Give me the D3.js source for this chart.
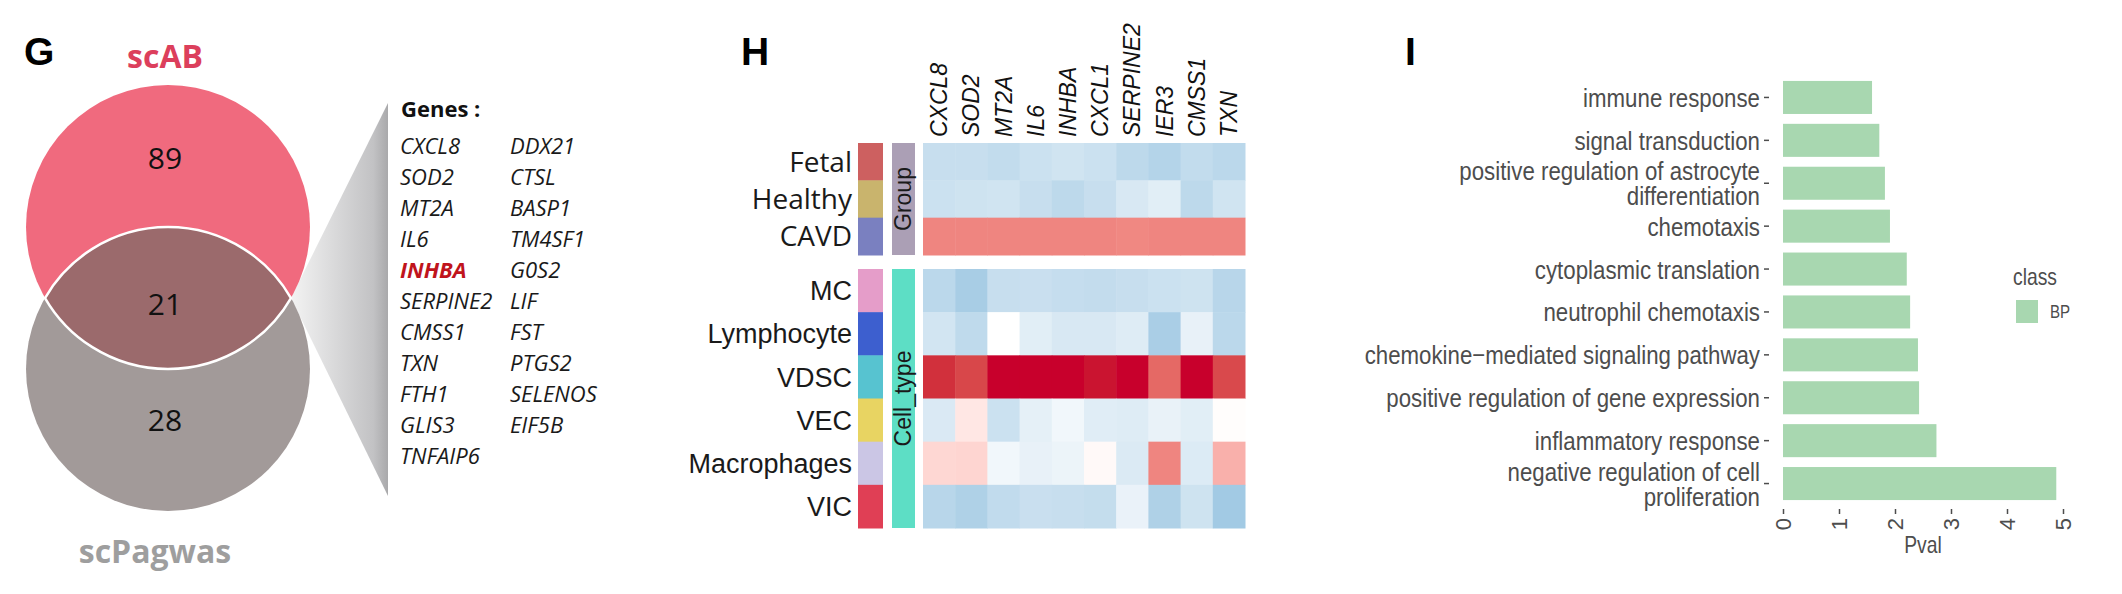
<!DOCTYPE html>
<html>
<head>
<meta charset="utf-8">
<script src="https://cdn.jsdelivr.net/npm/d3@7"></script>
<style>
  body { margin: 0; background: #fff; }
  svg { display: block; }
</style>
</head>
<body>
<svg id="fig" width="2122" height="594"></svg>
<script>
// ---- panel G : venn ----
const vennNames = ["scAB", "scPagwas"];
const vennCounts = [89, 21, 28];   // scAB only, shared, scPagwas only
const sharedGenes = ["CXCL8", "SOD2", "MT2A", "IL6", "INHBA", "SERPINE2", "CMSS1", "TXN", "FTH1", "GLIS3", "TNFAIP6",
                     "DDX21", "CTSL", "BASP1", "TM4SF1", "G0S2", "LIF", "FST", "PTGS2", "SELENOS", "EIF5B"];
const highlightGene = "INHBA";

// ---- panel H : heatmap ----
const heatGenes = ["CXCL8", "SOD2", "MT2A", "IL6", "INHBA", "CXCL1", "SERPINE2", "IER3", "CMSS1", "TXN"];
const groupNames = ["Fetal", "Healthy", "CAVD"];
const groupColors = ["#cd6060", "#c9b46d", "#7a80c0"];
const groupValues = [
  [-0.60, -0.60, -0.65, -0.55, -0.50, -0.55, -0.70, -0.80, -0.65, -0.72],
  [-0.55, -0.52, -0.50, -0.60, -0.70, -0.60, -0.42, -0.32, -0.70, -0.50],
  [ 1.00,  1.00,  1.00,  1.00,  1.00,  1.00,  0.98,  1.00,  1.00,  1.00]
];
const cellNames = ["MC", "Lymphocyte", "VDSC", "VEC", "Macrophages", "VIC"];
const cellColors = ["#e59dc9", "#3d5fcf", "#57c3d0", "#e8d462", "#cbc6e5", "#e03f55"];
const cellValues = [
  [-0.72, -0.92, -0.60, -0.58, -0.62, -0.64, -0.60, -0.55, -0.52, -0.75],
  [-0.48, -0.68,  0.00, -0.32, -0.42, -0.42, -0.35, -0.90, -0.25, -0.72],
  [ 1.80,  1.62,  2.05,  2.05,  2.00,  1.95,  2.05,  1.30,  2.05,  1.60],
  [-0.40,  0.20, -0.55, -0.28, -0.15, -0.33, -0.35, -0.24, -0.32,  0.02],
  [ 0.33,  0.35, -0.15, -0.25, -0.20,  0.05, -0.38,  1.00, -0.37,  0.65],
  [-0.75, -0.85, -0.66, -0.58, -0.60, -0.63, -0.23, -0.85, -0.52, -0.98]
];

// ---- panel I : GO bars ----
const goTerms = ["immune response", "signal transduction", "positive regulation of astrocyte\ndifferentiation",
                 "chemotaxis", "cytoplasmic translation", "neutrophil chemotaxis",
                 "chemokine\u2212mediated signaling pathway", "positive regulation of gene expression",
                 "inflammatory response", "negative regulation of cell\nproliferation"];
const goPval = [1.59, 1.72, 1.82, 1.91, 2.21, 2.27, 2.41, 2.43, 2.74, 4.88];
const goClass = ["BP"];
const pvalTicks = [0, 1, 2, 3, 4, 5];

const svg = d3.select("#fig");
const sans = "'Liberation Sans', Arial, sans-serif";
const soft = "'Open Sans', 'Noto Sans', sans-serif";
const squeeze = 0.84;   // ggplot text in the figure looks horizontally condensed

// panel letters
svg.selectAll("text.letter")
  .data([["G", 24], ["H", 741], ["I", 1405]])
  .enter().append("text")
  .attr("x", d => d[1]).attr("y", 65)
  .attr("font-family", sans).attr("font-weight", "bold").attr("font-size", 39)
  .text(d => d[0]);

// ================= G =================
const venn = svg.append("g");
const vx = 168, vr = 142, vTop = 227, vBot = 369;
const half = (vBot - vTop) / 2;
const dx = Math.sqrt(vr * vr - half * half);
const vMid = (vTop + vBot) / 2;

// funnel to gene list
const defs = svg.append("defs");
const grad = defs.append("linearGradient").attr("id", "fade")
  .attr("gradientUnits", "userSpaceOnUse")
  .attr("x1", vx + dx).attr("x2", 388).attr("y1", 0).attr("y2", 0);
grad.append("stop").attr("offset", 0).attr("stop-color", "#f3f3f3");
grad.append("stop").attr("offset", 0.85).attr("stop-color", "#c2c2c4");
grad.append("stop").attr("offset", 1).attr("stop-color", "#a9a9ab");
venn.append("path")
  .attr("d", `M${vx + dx},${vMid} L388,103 L388,496 Z`)
  .attr("fill", "url(#fade)");

venn.append("circle").attr("cx", vx).attr("cy", vTop).attr("r", vr).attr("fill", "#f06a7e");
venn.append("circle").attr("cx", vx).attr("cy", vBot).attr("r", vr).attr("fill", "#a29a99");
venn.append("path")
  .attr("d", `M${vx - dx},${vMid} A${vr},${vr} 0 0 1 ${vx + dx},${vMid} A${vr},${vr} 0 0 1 ${vx - dx},${vMid} Z`)
  .attr("fill", "#9b6a6c").attr("stroke", "#fff").attr("stroke-width", 2.5);

venn.selectAll("text.count")
  .data(vennCounts)
  .enter().append("text")
  .attr("x", vx - 3)
  .attr("y", (d, i) => [158, 304, 420][i])
  .attr("dy", "0.36em")
  .attr("text-anchor", "middle")
  .attr("font-family", soft).attr("font-size", 30).attr("fill", "#111")
  .text(d => d);

venn.selectAll("text.set")
  .data(vennNames)
  .enter().append("text")
  .attr("x", (d, i) => i === 0 ? 165 : 155)
  .attr("y", (d, i) => i === 0 ? 68 : 563)
  .attr("text-anchor", "middle")
  .attr("font-family", soft).attr("font-weight", "bold").attr("font-size", 32)
  .attr("fill", (d, i) => i === 0 ? "#dc3f5c" : "#9e9e9e")
  .text(d => d);

venn.append("text")
  .attr("x", 401).attr("y", 117)
  .attr("font-family", soft).attr("font-weight", "bold").attr("font-size", 22).attr("fill", "#111")
  .text("Genes :");

venn.selectAll("text.gene")
  .data(sharedGenes)
  .enter().append("text")
  .attr("x", (d, i) => i < 11 ? 400 : 510)
  .attr("y", (d, i) => 154 + (i % 11) * 31)
  .attr("font-family", soft).attr("font-style", "italic").attr("font-size", 22)
  .attr("font-weight", d => d === highlightGene ? "bold" : "normal")
  .attr("fill", d => d === highlightGene ? "#c0141c" : "#1a1a1a")
  .text(d => d);

// ================= H =================
const heat = svg.append("g");
const hx = d3.scaleBand().domain(heatGenes).range([923, 1245]);
const gy = d3.scaleBand().domain(groupNames).range([143, 255]);
const ty = d3.scaleBand().domain(cellNames).range([269, 528]);
const heatColor = d3.scaleLinear()
  .domain([-1, 0, 1, 2])
  .range(["#a0c9e3", "#ffffff", "#ef8580", "#c8002c"])
  .interpolate(d3.interpolateLab)
  .clamp(true);

function drawBlock(names, colors, values, yScale, label, labelColor, labelFont, labelSize) {
  const rows = heat.append("g");
  names.forEach((name, r) => {
    rows.selectAll(null)
      .data(values[r])
      .enter().append("rect")
      .attr("x", (d, c) => hx(heatGenes[c]))
      .attr("y", yScale(name))
      .attr("width", hx.bandwidth() + 0.5)
      .attr("height", yScale.bandwidth() + 0.5)
      .attr("fill", d => heatColor(d));
  });
  heat.selectAll(null)
    .data(names)
    .enter().append("rect")
    .attr("x", 858).attr("width", 25)
    .attr("y", d => yScale(d)).attr("height", yScale.bandwidth() + 0.5)
    .attr("fill", (d, i) => colors[i]);
  heat.selectAll(null)
    .data(names)
    .enter().append("text")
    .attr("x", 852).attr("y", d => yScale(d) + yScale.bandwidth() / 2)
    .attr("dy", "0.36em").attr("text-anchor", "end")
    .attr("font-family", labelFont).attr("font-size", labelSize).attr("fill", "#1a1a1a")
    .text(d => d);
  const [y0, y1] = yScale.range();
  heat.append("rect")
    .attr("x", 892).attr("width", 23).attr("y", y0).attr("height", y1 - y0)
    .attr("fill", labelColor);
  heat.append("text")
    .attr("transform", `translate(911,${(y0 + y1) / 2}) rotate(-90)`)
    .attr("text-anchor", "middle")
    .attr("font-family", sans).attr("font-size", 23).attr("fill", "#1a1a1a")
    .text(label);
}
drawBlock(groupNames, groupColors, groupValues, gy, "Group", "#ab9fb5", soft, 28);
drawBlock(cellNames, cellColors, cellValues, ty, "Cell_type", "#5ddec5", sans, 27);

heat.selectAll("text.col")
  .data(heatGenes)
  .enter().append("text")
  .attr("transform", d => `translate(${hx(d) + hx.bandwidth() / 2 + 8},137) rotate(-90)`)
  .attr("font-family", sans).attr("font-style", "italic").attr("font-size", 23).attr("fill", "#111")
  .text(d => d);

// ================= I =================
const bars = svg.append("g");
const bx = d3.scaleLinear().domain([0, 5]).range([1783, 2063]);
const by = d3.scaleBand().domain(goTerms).range([76, 505]).paddingInner(0.23).paddingOuter(0.115);
const panelLeft = bx(-0.25), panelBottom = 509;

bars.selectAll("rect.bar")
  .data(goTerms)
  .enter().append("rect")
  .attr("x", bx(0))
  .attr("y", d => by(d))
  .attr("width", (d, i) => bx(goPval[i]) - bx(0))
  .attr("height", by.bandwidth())
  .attr("fill", "#a8d7b0");

const yAxis = bars.append("g")
  .attr("transform", `translate(${panelLeft},0)`)
  .call(d3.axisLeft(by).tickSize(5).tickPadding(4).tickFormat(""));
yAxis.select(".domain").remove();
yAxis.selectAll("line").attr("stroke", "#4d4d4d").attr("stroke-width", 1.5);
yAxis.selectAll(".tick").each(function (d) {
  const lines = d.split("\n");
  const t = d3.select(this).append("g")
    .attr("transform", `translate(-9,0) scale(${squeeze},1)`)
    .append("text")
    .attr("fill", "#4d4d4d")
    .attr("text-anchor", "end")
    .attr("font-family", sans).attr("font-size", 26.5);
  lines.forEach((ln, k) => {
    t.append("tspan").attr("x", 0)
      .attr("y", (k - (lines.length - 1) / 2) * 25)
      .attr("dy", "0.36em")
      .text(ln);
  });
});

const xAxis = bars.append("g")
  .attr("transform", `translate(0,${panelBottom})`)
  .call(d3.axisBottom(bx).tickValues(pvalTicks).tickSize(5).tickPadding(0).tickFormat(d3.format("d")));
xAxis.select(".domain").remove();
xAxis.selectAll("line").attr("stroke", "#4d4d4d").attr("stroke-width", 1.5);
xAxis.selectAll("text")
  .attr("transform", "translate(0,9) rotate(-90)")
  .attr("x", 0).attr("y", 0).attr("dy", "0.36em")
  .attr("text-anchor", "end")
  .attr("font-family", sans).attr("font-size", 22).attr("fill", "#4d4d4d");

bars.append("g")
  .attr("transform", `translate(${(panelLeft + bx(5.25)) / 2},553) scale(${squeeze},1)`)
  .append("text")
  .attr("text-anchor", "middle")
  .attr("font-family", sans).attr("font-size", 23).attr("fill", "#4d4d4d")
  .text("Pval");

const legend = bars.append("g").attr("transform", "translate(2013,0)");
legend.append("g")
  .attr("transform", `translate(0,285) scale(${squeeze},1)`)
  .append("text")
  .attr("font-family", sans).attr("font-size", 23).attr("fill", "#4d4d4d")
  .text("class");
legend.selectAll("rect.key")
  .data(goClass)
  .enter().append("rect")
  .attr("x", 3).attr("y", 300).attr("width", 22).attr("height", 23)
  .attr("fill", "#a8d7b0");
legend.selectAll("g.key")
  .data(goClass)
  .enter().append("g")
  .attr("transform", `translate(37,312) scale(${squeeze},1)`)
  .append("text")
  .attr("dy", "0.36em")
  .attr("font-family", sans).attr("font-size", 18).attr("fill", "#4d4d4d")
  .text(d => d);
</script>
</body>
</html>
